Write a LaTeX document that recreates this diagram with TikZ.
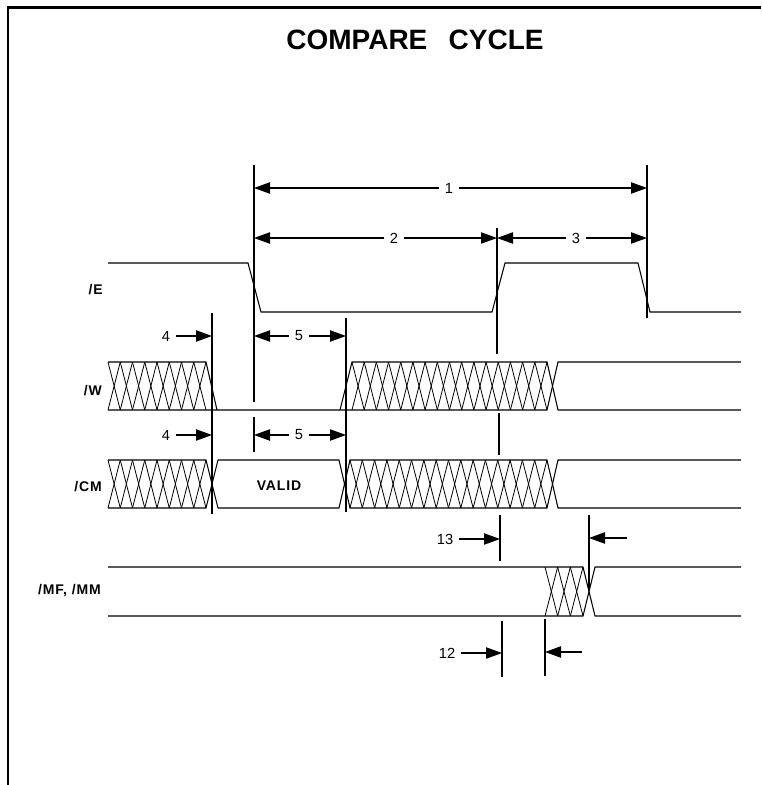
\documentclass[tikz,border=0pt]{standalone}
\usepackage{fontspec}
\setmainfont{Liberation Sans}
\newfontfamily\lblfont[LetterSpace=6]{Liberation Sans}
\usetikzlibrary{arrows.meta}

\tikzset{
  sig/.style={line width=0.8pt},
  xline/.style={line width=0.6pt},
  guide/.style={line width=0.8pt},
  dim/.style={line width=0.8pt,-{Triangle[length=12pt,width=8.5pt]}},
  num/.style={font=\fontsize{11}{13}\selectfont,inner xsep=4.5pt,inner ysep=1pt},
  siglbl/.style={font=\lblfont\bfseries\fontsize{10.5}{12}\selectfont,anchor=east,inner sep=0pt},
}

% X-shaped "don't care" cells: from, to, top, bottom, number of cells
\newcommand{\xcells}[5]{%
  \pgfmathsetmacro{\cellw}{(#2-#1)/#5}
  \foreach \k in {1,...,#5}{
    \draw[xline] ({#1+(\k-1)*\cellw},#3) -- ({#1+\k*\cellw},#4);
    \draw[xline] ({#1+\k*\cellw},#3) -- ({#1+(\k-1)*\cellw},#4);
  }
}

\begin{document}
\begin{tikzpicture}[x=0.75pt,y=-0.75pt]
\useasboundingbox (0,0) rectangle (761,785);

\draw[line width=2pt] (8,785) -- (8,7.5) -- (761,7.5);							% frame

\node[font=\bfseries\fontsize{21}{25}\selectfont] (title) at (415,40) {COMPARE\hspace{16pt}CYCLE};

% signal names
\node[siglbl] (lE)  at (103,290) {/E};
\node[siglbl] (lW)  at (102,391) {/W};
\node[siglbl] (lCM) at (102,487) {/CM};
\node[siglbl] (lMF) at (101,591) {/MF, /MM};

\draw[sig] (108,263) -- (248,263) -- (261,312) -- (492,312) -- (505,263) -- (638,263) -- (650,312) -- (741,312);	% /E

\xcells{108}{206}{362}{410}{8}												% /W
\draw[sig] (108,362) -- (206,362) -- (217,410);
\draw[sig] (108,410) -- (547,410) -- (558,362) -- (741,362);
\draw[sig] (340,410) -- (352,362) -- (547,362) -- (558,410) -- (741,410);
\xcells{352}{547}{362}{410}{16}

\xcells{108}{206}{460}{508}{8}												% /CM
\draw[sig] (108,460) -- (206,460) -- (218,508) -- (339,508) -- (350,460) -- (547,460) -- (558,508) -- (741,508);
\draw[sig] (108,508) -- (206,508) -- (218,460) -- (339,460) -- (350,508) -- (547,508) -- (558,460) -- (741,460);
\xcells{350}{547}{460}{508}{16}
\node[siglbl,anchor=center] (valid) at (279,486) {VALID};

\draw[sig] (108,567) -- (583,567) -- (595,616) -- (741,616);					% /MF, /MM
\draw[sig] (108,616) -- (583,616) -- (595,567) -- (741,567);
\xcells{545}{583}{567}{616}{3}

% guide lines
\coordinate (g1t) at (254,165); \coordinate (g1b) at (254,402);
\coordinate (g1u) at (254,417); \coordinate (g1v) at (254,452);
\coordinate (g2t) at (497,228); \coordinate (g2b) at (497,354);
\coordinate (g2u) at (499,413); \coordinate (g2v) at (499,455);
\coordinate (g3t) at (647,165); \coordinate (g3b) at (647,318);
\coordinate (g4t) at (212,313); \coordinate (g4b) at (212,514);
\coordinate (g5t) at (346,318); \coordinate (g5b) at (346,512);
\coordinate (g6t) at (500,515); \coordinate (g6b) at (500,561);
\coordinate (g7t) at (589,515); \coordinate (g7b) at (589,590);
\coordinate (g8t) at (502,621); \coordinate (g8b) at (502,677);
\coordinate (g9t) at (545,619); \coordinate (g9b) at (545,676);
\foreach \a/\b in {g1t/g1b,g1u/g1v,g2t/g2b,g2u/g2v,g3t/g3b,g4t/g4b,g5t/g5b,g6t/g6b,g7t/g7b,g8t/g8b,g9t/g9b}
  \draw[guide] (\a) -- (\b);

% timing numbers
\node[num] (n1) at (449,188) {1};
\draw[dim] (n1.west) -- (n1.west -| g1t);
\draw[dim] (n1.east) -- (n1.east -| g3t);

\node[num] (n2) at (394,238) {2};
\draw[dim] (n2.west) -- (n2.west -| g1t);
\draw[dim] (n2.east) -- (n2.east -| g2t);

\node[num] (n3) at (576,238) {3};
\draw[dim] (n3.west) -- (n3.west -| g2t);
\draw[dim] (n3.east) -- (n3.east -| g3t);

\node[num] (n4a) at (166,336) {4};
\draw[dim] (n4a.east) -- (n4a.east -| g4t);
\node[num] (n5a) at (299,336) {5};
\draw[dim] (n5a.west) -- (n5a.west -| g1t);
\draw[dim] (n5a.east) -- (n5a.east -| g5t);

\node[num] (n4b) at (166,435) {4};
\draw[dim] (n4b.east) -- (n4b.east -| g4t);
\node[num] (n5b) at (299,435) {5};
\draw[dim] (n5b.west) -- (n5b.west -| g1t);
\draw[dim] (n5b.east) -- (n5b.east -| g5t);

\node[num] (n13) at (445,539) {13};
\coordinate (e13) at (627,538);
\draw[dim] (n13.east) -- (n13.east -| g6t);
\draw[dim] (e13) -- (e13 -| g7t);

\node[num] (n12) at (447,653) {12};
\coordinate (e12) at (582,652);
\draw[dim] (n12.east) -- (n12.east -| g8t);
\draw[dim] (e12) -- (e12 -| g9t);

\end{tikzpicture}
\end{document}
